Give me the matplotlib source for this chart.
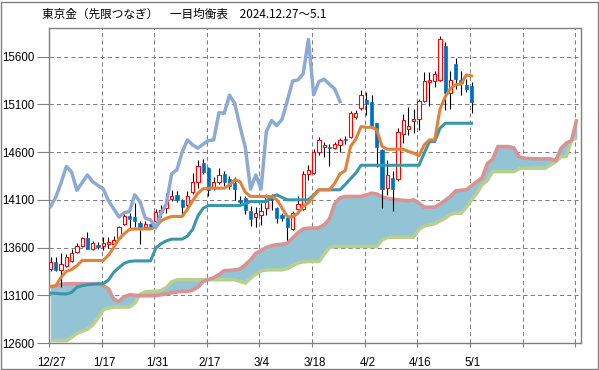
import numpy as np
import matplotlib.pyplot as plt
from matplotlib.patches import Rectangle

# Tick labels (every 10 trading days)
date_labels = ["12/27", "1/17", "1/31", "2/17", "3/4", "3/18", "4/2", "4/16", "5/1", "", ""]

# Daily OHLC, 2024.12.27 - 2025.5.1
opens = [13375, 13450, 13370, 13406, 13462, 13555, 13620, 13700, 13584, 13625,
         13611, 13636, 13640, 13705, 13849, 13929, 13922, 13859, 13814, 13845,
         13880, 13975, 14010, 14107, 14152, 14100, 14047, 14177, 14291, 14484,
         14432, 14222, 14285, 14372, 14316, 14274, 14100, 14117, 13978, 13925,
         13943, 14013, 14145, 14013, 13943, 13908, 13793, 14002, 14002, 14369,
         14386, 14606, 14658, 14655, 14641, 14675, 14742, 14762, 14972, 15060,
         15147, 15129, 14902, 14623, 14222, 14327, 14317, 14791, 14840, 14927,
         14945, 15140, 15338, 15345, 15356, 15712, 15217, 15524, 15356, 15304,
         15293]
highs = [13500, 13500, 13540, 13535, 13590, 13647, 13710, 13762, 13670, 13660,
         13710, 13710, 13720, 13830, 13974, 13960, 14063, 13880, 13880, 13880,
         14000, 14047, 14170, 14205, 14190, 14110, 14190, 14380, 14518, 14525,
         14440, 14340, 14432, 14400, 14350, 14340, 14135, 14135, 14040, 14030,
         14065, 14163, 14165, 14030, 13960, 13920, 13980, 14135, 14400, 14466,
         14630, 14760, 14710, 14680, 14710, 14745, 14765, 15030, 15040, 15251,
         15233, 15200, 14910, 14630, 14518, 14400, 14850, 15000, 15070, 15050,
         15160, 15443, 15443, 15450, 15816, 15750, 15453, 15583, 15450, 15370,
         15338]
lows = [13355, 13350, 13190, 13395, 13450, 13540, 13610, 13583, 13570, 13585,
        13577, 13600, 13620, 13690, 13840, 13793, 13820, 13632, 13800, 13790,
        13870, 13925, 13960, 14090, 14080, 13925, 14030, 14160, 14222, 14370,
        14135, 14200, 14270, 14250, 14210, 14100, 14060, 13953, 13828, 13820,
        13838, 13943, 13990, 13856, 13880, 13681, 13780, 13990, 13990, 14310,
        14370, 14570, 14547, 14456, 14630, 14600, 14680, 14750, 14945, 15040,
        14990, 14850, 14449, 14013, 14152, 13978, 14300, 14700, 14780, 14800,
        14833, 15120, 15083, 15280, 15340, 15042, 15050, 15258, 15199, 15230,
        15007]
closes = [13448, 13370, 13427, 13496, 13542, 13615, 13700, 13590, 13643, 13605,
          13643, 13663, 13674, 13820, 13935, 13901, 13877, 13814, 13849, 13814,
          13975, 13995, 14090, 14142, 14100, 14030, 14142, 14291, 14456, 14396,
          14205, 14285, 14362, 14291, 14246, 14212, 14079, 13995, 13901, 13960,
          13978, 14152, 14100, 13908, 13908, 13814, 13960, 14058, 14372, 14414,
          14599, 14728, 14675, 14641, 14683, 14728, 14728, 15013, 15007, 15196,
          15105, 14867, 14652, 14212, 14355, 14212, 14815, 14937, 14878, 14945,
          15136, 15345, 15356, 15419, 15782, 15223, 15356, 15363, 15321, 15262,
          15129]

# Conversion line (tenkan) and base line (kijun)
tenkan = [13193, 13200, 13290, 13350, 13370, 13410, 13465, 13465, 13465, 13465,
          13465, 13520, 13600, 13690, 13745, 13790, 13795, 13795, 13795, 13795,
          13814, 13880, 13908, 13925, 13925, 13925, 14000, 14090, 14170, 14215,
          14222, 14222, 14222, 14222, 14257, 14310, 14290, 14180, 14135, 14135,
          14135, 14135, 14135, 14100, 14013, 13925, 13920, 13960, 14030, 14070,
          14140, 14205, 14205, 14205, 14274, 14372, 14407, 14658, 14735, 14867,
          14860, 14860, 14833, 14658, 14630, 14630, 14630, 14630, 14606, 14590,
          14560, 14675, 14728, 14728, 15050, 15180, 15269, 15304, 15314, 15408,
          15398]
kijun = [13123, 13120, 13115, 13113, 13130, 13185, 13200, 13210, 13215, 13220,
         13222, 13260, 13340, 13390, 13435, 13455, 13460, 13460, 13460, 13460,
         13594, 13640, 13670, 13688, 13688, 13688, 13720, 13790, 13932, 14013,
         14040, 14040, 14040, 14040, 14040, 14040, 14040, 14060, 14082, 14082,
         14082, 14082, 14135, 14152, 14125, 14100, 14100, 14100, 14100, 14100,
         14152, 14205, 14205, 14205, 14205, 14205, 14260, 14320, 14380, 14462,
         14462, 14462, 14462, 14462, 14462, 14462, 14462, 14462, 14462, 14462,
         14462, 14588, 14710, 14710, 14850, 14902, 14902, 14902, 14902, 14902,
         14902]

# Lagging span (chikou), drawn from the first bar
chikou = [14030, 14130, 14280, 14450, 14390, 14200, 14280, 14360, 14291, 14250,
          14215, 14090, 14005, 13920, 13965, 13978, 14152, 14080, 13908, 13890,
          13805, 13960, 14058, 14372, 14414, 14599, 14728, 14675, 14641, 14683,
          14720, 14728, 15013, 15007, 15196, 15110, 14867, 14652, 14212, 14360,
          14212, 14815, 14930, 14878, 14945, 15140, 15345, 15356, 15420, 15780,
          15200, 15340, 15363, 15310, 15262, 15129]

# Leading spans A and B (cloud)
senkou_a = [13180, 13200, 13215, 13221, 13221, 13221, 13221, 13221, 13221, 13221,
            13200, 13170, 13060, 13035, 13085, 13105, 13100, 13095, 13095, 13095,
            13095, 13105, 13115, 13125, 13135, 13140, 13140, 13155, 13185, 13245,
            13265, 13285, 13315, 13360, 13360, 13365, 13375, 13420, 13470, 13540,
            13570, 13600, 13620, 13630, 13635, 13645, 13700, 13755, 13795, 13803,
            13803, 13808, 13838, 13900, 14060, 14120, 14135, 14135, 14135, 14135,
            14150, 14170, 14160, 14130, 14115, 14105, 14100, 14095, 14090, 14100,
            14065, 14023, 14023, 14023, 14055, 14095, 14135, 14195, 14200, 14205,
            14247, 14291, 14330, 14480, 14525, 14658, 14658, 14658, 14645, 14553,
            14536, 14533, 14530, 14529, 14529, 14529, 14511, 14640, 14693, 14720,
            14945]
senkou_b = [12625, 12625, 12625, 12625, 12660, 12700, 12725, 12745, 12790, 12860,
            12950, 12966, 12977, 12977, 12977, 12977, 13019, 13110, 13135, 13140,
            13140, 13150, 13180, 13240, 13260, 13263, 13263, 13263, 13263, 13263,
            13263, 13263, 13263, 13263, 13263, 13263, 13245, 13228, 13280, 13320,
            13355, 13365, 13367, 13367, 13367, 13380, 13409, 13437, 13450, 13454,
            13454, 13454, 13530, 13600, 13611, 13611, 13611, 13611, 13611, 13611,
            13611, 13611, 13611, 13681, 13705, 13709, 13709, 13709, 13709, 13709,
            13790, 13825, 13838, 13850, 13880, 13908, 13950, 13960, 13960, 14020,
            14100, 14170, 14260, 14305, 14396, 14396, 14396, 14396, 14396, 14425,
            14432, 14432, 14432, 14432, 14432, 14466, 14500, 14553, 14553, 14728,
            14746]

title = "東京金（先限つなぎ）　一目均衡表　2024.12.27～5.1"

GRID_SHIFT = -0.3   # category boundaries sit a little left of the bars
GREY = "#808080"

plt.rcParams["font.family"] = ["Liberation Sans", "Noto Sans CJK JP", "DejaVu Sans"]

fig = plt.figure(figsize=(5.99, 3.70), dpi=100)
ax = fig.add_axes([49 / 599, 27 / 370, 532 / 599, 315 / 370])

xb = np.arange(len(closes))
xc = np.arange(len(senkou_a))
xl = np.arange(len(chikou))

# cloud
sa = np.array(senkou_a)
sb = np.array(senkou_b)
ax.fill_between(xc, sa, sb, color="#92c4d6", lw=0, zorder=2)
ax.plot(xc, sb, color="#b8cf92", lw=2.6, zorder=3, solid_capstyle="butt")
ax.plot(xc, sa, color="#d69494", lw=2.6, zorder=3, solid_capstyle="butt")

# candles
o = np.array(opens)
c = np.array(closes)
up = c >= o
ax.vlines(xb, lows, highs, color="black", lw=0.8, zorder=4)
bw = 0.62
ax.bar(xb[up], (c - o)[up], bottom=o[up], width=bw, facecolor="white",
       edgecolor="#ff0000", lw=0.8, zorder=5)
ax.bar(xb[~up], (o - c)[~up], bottom=c[~up], width=bw, facecolor="#0070c0",
       edgecolor="#0070c0", lw=0.5, zorder=5)

# lines
ax.plot(xb, kijun, color="#3a97aa", lw=2.2, zorder=6)
ax.plot(xb, tenkan, color="#e0823a", lw=2.2, zorder=6)
ax.plot(xl, chikou, color="#8eaad4", lw=2.5, zorder=6)

# axes
ax.set_ylim(12600, 15900)
ax.set_xlim(GRID_SHIFT, 100.8)
ax.set_yticks(np.arange(12600, 15601, 500))
ax.tick_params(axis="y", length=8.6, width=0.8, color=GREY, pad=2,
               labelsize=8.3, labelcolor="black")

grid_pos = np.arange(0, 101, 10) + GRID_SHIFT
ax.set_xticks(grid_pos, minor=True)
ax.set_xticks(np.arange(0, 101, 10) + 0.2)
ax.set_xticklabels(date_labels)
ax.tick_params(axis="x", which="major", length=0, pad=10, labelsize=8.3)
ax.tick_params(axis="x", which="minor", length=3, width=0.8, color=GREY)

ax.grid(True, axis="y", which="major", color=GREY, lw=0.75, ls=(0, (4, 3)))
ax.grid(True, axis="x", which="minor", color=GREY, lw=0.75, ls=(0, (4, 3)))
ax.set_axisbelow(True)
for s in ax.spines.values():
    s.set_color(GREY)
    s.set_linewidth(1.0)

fig.text(42 / 599, 1 - 14 / 370, title, fontsize=8.4, va="center", ha="left",
         family=["Noto Sans CJK JP", "DejaVu Sans"])

fig.add_artist(Rectangle((1 / 599, 1.5 / 370), 596.5 / 599, 367 / 370,
                         transform=fig.transFigure, fill=False,
                         edgecolor=GREY, lw=1.0))

fig.savefig("out.png", dpi=100)
